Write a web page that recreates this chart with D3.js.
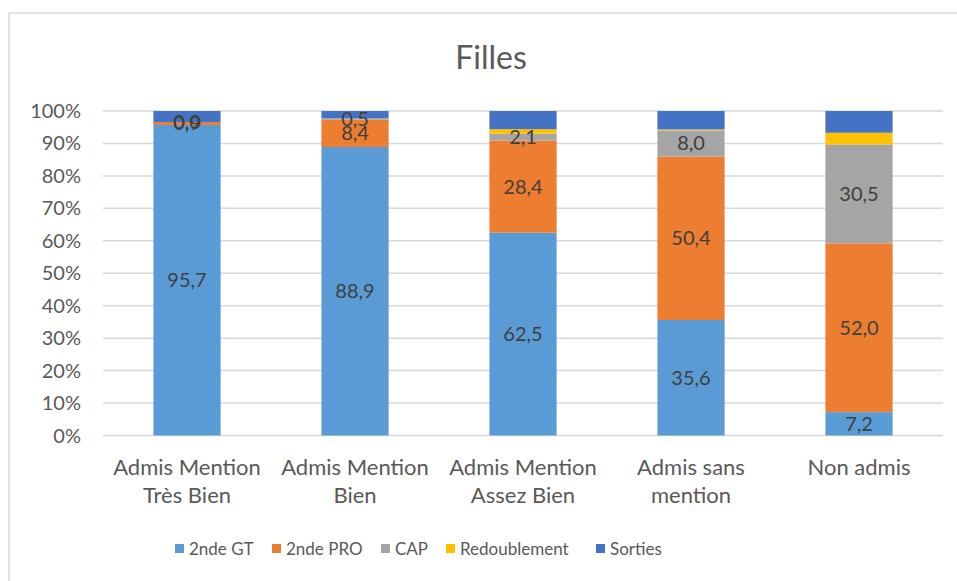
<!DOCTYPE html>
<html>
<head>
<meta charset="utf-8">
<script src="https://cdn.jsdelivr.net/npm/d3@7"></script>
<style>
  body { margin: 0; background: #fff; }
  svg { display: block; font-family: Lato, "Open Sans", sans-serif; }
</style>
</head>
<body>
<svg id="chart" width="957" height="581"></svg>
<script>
// données
const categories = [
  ["Admis Mention", "Très Bien"],
  ["Admis Mention", "Bien"],
  ["Admis Mention", "Assez Bien"],
  ["Admis sans", "mention"],
  ["Non admis"]
];
const seriesNames = ["2nde GT", "2nde PRO", "CAP", "Redoublement", "Sorties"];
const gt = [95.7, 88.9, 62.5, 35.6, 7.2];
const pro = [0.9, 8.4, 28.4, 50.4, 52.0];
const cap = [0.0, 0.5, 2.1, 8.0, 30.5];
const redoublement = [0.0, 0.0, 1.4, 0.3, 3.6];
const sorties = [3.4, 2.2, 5.6, 5.7, 6.7];
const yTicks = [0, 10, 20, 30, 40, 50, 60, 70, 80, 90, 100];
const labelled = ["2nde GT", "2nde PRO", "CAP"];

const colors = {
  "2nde GT": "#5B9BD5",
  "2nde PRO": "#ED7D31",
  "CAP": "#A5A5A5",
  "Redoublement": "#FFC000",
  "Sorties": "#4472C4"
};

const rows = categories.map((c, i) => ({
  key: i,
  "2nde GT": gt[i],
  "2nde PRO": pro[i],
  "CAP": cap[i],
  "Redoublement": redoublement[i],
  "Sorties": sorties[i]
}));

const svg = d3.select("#chart");

// cadre du graphique
svg.append("rect")
  .attr("x", 9).attr("y", 13)
  .attr("width", 960).attr("height", 580)
  .attr("fill", "#fff")
  .attr("stroke", "#d9d9d9")
  .attr("stroke-width", 1.5);

const plot = { left: 103, right: 943, top: 111, bottom: 435.5 };

const x = d3.scaleBand()
  .domain(rows.map(d => d.key))
  .range([plot.left, plot.right])
  .paddingInner(0.6)
  .paddingOuter(0.3);

const y = d3.scaleLinear().domain([0, 100]).range([plot.bottom, plot.top]);

// titre
svg.append("text")
  .attr("x", 491).attr("y", 69)
  .attr("text-anchor", "middle")
  .attr("font-size", 32)
  .attr("fill", "#595959")
  .text("Filles");

// grille horizontale
svg.append("g")
  .selectAll("line")
  .data(yTicks)
  .join("line")
  .attr("x1", plot.left).attr("x2", plot.right)
  .attr("y1", d => y(d)).attr("y2", d => y(d))
  .attr("stroke", "#d9d9d9")
  .attr("stroke-width", 1.5);

// étiquettes de l'axe y
svg.append("g")
  .selectAll("text")
  .data(yTicks)
  .join("text")
  .attr("x", 81)
  .attr("y", d => y(d))
  .attr("dy", "0.35em")
  .attr("text-anchor", "end")
  .attr("font-size", 20)
  .attr("fill", "#595959")
  .text(d => d + "%");

// empilement
const stack = d3.stack().keys(seriesNames);
const stacked = stack(rows);

const layers = svg.append("g")
  .selectAll("g")
  .data(stacked)
  .join("g")
  .attr("fill", d => colors[d.key]);

layers.selectAll("rect")
  .data(d => d)
  .join("rect")
  .attr("x", d => x(d.data.key))
  .attr("width", x.bandwidth())
  .attr("y", d => y(d[1]))
  .attr("height", d => y(d[0]) - y(d[1]));

// valeurs dans les barres
const fmt = v => v.toFixed(1).replace(".", ",");
svg.append("g")
  .selectAll("g")
  .data(stacked.filter(s => labelled.includes(s.key)))
  .join("g")
  .selectAll("text")
  .data(d => d)
  .join("text")
  .attr("x", d => x(d.data.key) + x.bandwidth() / 2)
  .attr("y", d => (y(d[0]) + y(d[1])) / 2)
  .attr("dy", "0.35em")
  .attr("text-anchor", "middle")
  .attr("font-size", 20)
  .attr("fill", "#404040")
  .text(d => fmt(d[1] - d[0]));

// libellés des catégories
const catLabels = svg.append("g")
  .selectAll("text")
  .data(categories)
  .join("text")
  .attr("x", (d, i) => x(i) + x.bandwidth() / 2)
  .attr("y", 475)
  .attr("text-anchor", "middle")
  .attr("font-size", 22)
  .attr("fill", "#595959");

catLabels.selectAll("tspan")
  .data(d => d)
  .join("tspan")
  .attr("x", function () { return d3.select(this.parentNode).attr("x"); })
  .attr("dy", (d, i) => i === 0 ? 0 : 28)
  .text(d => d);

// légende
const legendX = [175, 272, 381, 446, 596];
const legend = svg.append("g")
  .selectAll("g")
  .data(seriesNames)
  .join("g")
  .attr("transform", (d, i) => `translate(${legendX[i]}, 549)`);

legend.append("rect")
  .attr("x", 0).attr("y", -5)
  .attr("width", 9).attr("height", 9)
  .attr("fill", d => colors[d]);

legend.append("text")
  .attr("x", 14)
  .attr("dy", "0.35em")
  .attr("font-size", 17)
  .attr("fill", "#595959")
  .text(d => d);
</script>
</body>
</html>
